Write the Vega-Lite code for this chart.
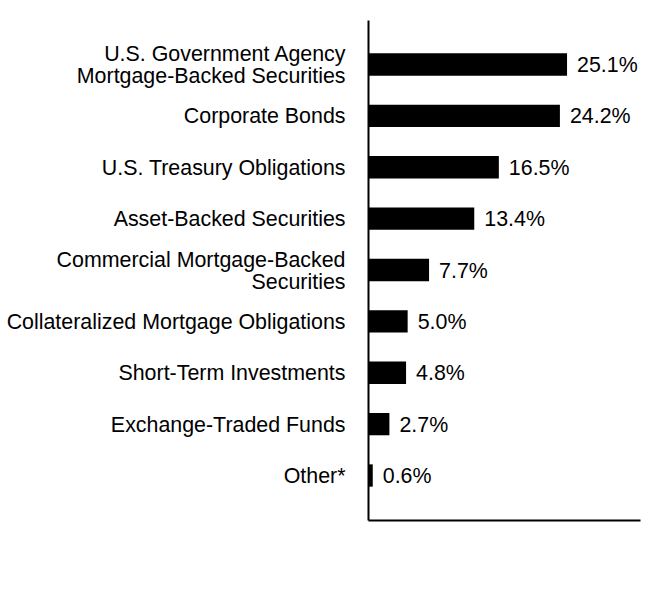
{
  "$schema": "https://vega.github.io/schema/vega-lite/v6.json",
  "autosize": {"type": "none"},
  "padding": {"left": 368, "top": 20, "right": 20, "bottom": 80},
  "width": 272,
  "height": 500,
  "background": "white",
  "config": {
    "view": {"stroke": null},
    "font": "Liberation Sans"
  },
  "data": {
    "values": [
      {"category": "U.S. Government Agency|Mortgage-Backed Securities", "value": 25.1},
      {"category": "Corporate Bonds", "value": 24.2},
      {"category": "U.S. Treasury Obligations", "value": 16.5},
      {"category": "Asset-Backed Securities", "value": 13.4},
      {"category": "Commercial Mortgage-Backed|Securities", "value": 7.7},
      {"category": "Collateralized Mortgage Obligations", "value": 5.0},
      {"category": "Short-Term Investments", "value": 4.8},
      {"category": "Exchange-Traded Funds", "value": 2.7},
      {"category": "Other*", "value": 0.6}
    ]
  },
  "transform": [
    {"calculate": "format(datum.value, '.1f') + '%'", "as": "label"}
  ],
  "encoding": {
    "y": {
      "field": "category",
      "type": "nominal",
      "sort": null,
      "title": null,
      "scale": {"paddingInner": 0.566, "paddingOuter": 0.649},
      "axis": {
        "labelExpr": "split(datum.label, '|')",
        "labelFont": "Liberation Sans",
        "labelFontSize": 21.4,
        "labelLineHeight": 22,
        "labelColor": "black",
        "labelPadding": 23,
        "labelLimit": 400,
        "labelOffset": {
          "condition": {"test": "indexof(datum.value, '|') >= 0", "value": -9.5},
          "value": 1.5
        },
        "ticks": false,
        "domainColor": "black",
        "domainWidth": 2
      }
    },
    "x": {
      "field": "value",
      "type": "quantitative",
      "title": null,
      "scale": {"domain": [0, 34.3], "nice": false, "zero": true},
      "axis": {
        "labels": false,
        "ticks": false,
        "grid": false,
        "domainColor": "black",
        "domainWidth": 2
      }
    }
  },
  "layer": [
    {"mark": {"type": "bar", "color": "black"}},
    {
      "mark": {
        "type": "text",
        "align": "left",
        "baseline": "middle",
        "dx": 10,
        "dy": 1.5,
        "font": "Liberation Sans",
        "fontSize": 21.4,
        "color": "black"
      },
      "encoding": {"text": {"field": "label"}}
    }
  ]
}
